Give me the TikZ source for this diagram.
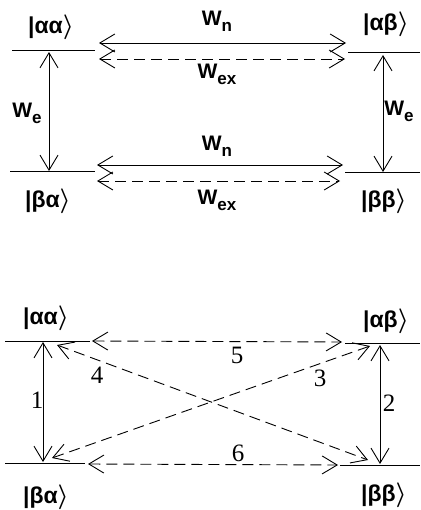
\documentclass[tikz,border=0pt]{standalone}
\usepackage{fontspec}
\setmainfont{Liberation Sans}
\newfontfamily\numfont{Liberation Serif}
\usetikzlibrary{arrows.meta}
\newcommand{\myket}[1]{|#1$\boldsymbol{\rangle}$}
\usepackage{amsmath}
\usepackage{amsbsy}
\newcommand{\Wsub}[1]{W\raisebox{-0.55ex}{\fontsize{17}{17}\selectfont #1}}
\tikzset{
  lvl/.style={line width=1pt},
  barb/.tip={Straight Barb[length=15pt,width=18pt]},
  dbl/.style={line width=0.9pt,barb-barb},
  dsh/.style={dash pattern=on 11pt off 6pt},
  ketlab/.style={font=\fontsize{23}{26}\selectfont\bfseries, inner sep=0pt},
  wlab/.style={font=\fontsize{21}{24}\selectfont\bfseries, inner sep=0pt},
  numlab/.style={font=\numfont\fontsize{25}{27}\selectfont, inner sep=0pt}
}
\begin{document}
\begin{tikzpicture}[x=1pt,y=-1pt]
\useasboundingbox (0,0) rectangle (420,510);
% ---------- top diagram ----------
\coordinate (aL1) at (12,51);  \coordinate (aL2) at (95,51);
\coordinate (bL1) at (10,172); \coordinate (bL2) at (95,172);
\coordinate (aR1) at (348,53); \coordinate (aR2) at (420,53);
\coordinate (bR1) at (345,173);\coordinate (bR2) at (420,173);
\draw[lvl] (aL1) -- (aL2);
\draw[lvl] (bL1) -- (bL2);
\draw[lvl] (aR1) -- (aR2);
\draw[lvl] (bR1) -- (bR2);
\coordinate (veL1) at (49,52);  \coordinate (veL2) at (49,171);
\coordinate (veR1) at (383,55); \coordinate (veR2) at (383,172);
\draw[dbl] (veL1) -- (veL2);
\draw[dbl] (veR1) -- (veR2);
\coordinate (nA1) at (99,43);  \coordinate (nA2) at (346,43);
\coordinate (xA1) at (99,59);  \coordinate (xA2) at (345,59);
\coordinate (nB1) at (97,165); \coordinate (nB2) at (343,165);
\coordinate (xB1) at (97,181); \coordinate (xB2) at (340,181);
\draw[dbl] (nA1) -- (nA2);
\draw[dbl,dsh] (xA1) -- (xA2);
\draw[dbl] (nB1) -- (nB2);
\draw[dbl,dsh] (xB1) -- (xB2);
\node[ketlab] (k1) at (51,27) {\myket{αα}};
\node[ketlab] (k2) at (386,24) {\myket{αβ}};
\node[ketlab] (k3) at (48,201) {\myket{βα}};
\node[ketlab] (k4) at (384,201) {\myket{ββ}};
\node[wlab] (w1) at (217,21) {\Wsub{n}};
\node[wlab] (w2) at (217,74) {\Wsub{ex}};
\node[wlab] (w3) at (217,146) {\Wsub{n}};
\node[wlab] (w4) at (217,200) {\Wsub{ex}};
\node[wlab] (w5) at (27,113) {\Wsub{e}};
\node[wlab] (w6) at (399,111) {\Wsub{e}};
% ---------- bottom diagram ----------
\coordinate (cL1) at (5,341);  \coordinate (cL2) at (90,341);
\coordinate (dL1) at (5,463);  \coordinate (dL2) at (85,463);
\coordinate (cR1) at (345,343);\coordinate (cR2) at (420,343);
\coordinate (dR1) at (340,465);\coordinate (dR2) at (420,465);
\draw[lvl] (cL1) -- (cL2);
\draw[lvl] (dL1) -- (dL2);
\draw[lvl] (cR1) -- (cR2);
\draw[lvl] (dR1) -- (dR2);
\coordinate (t1a) at (43,342); \coordinate (t1b) at (43,462);
\coordinate (t2a) at (380,345);\coordinate (t2b) at (380,464);
\draw[dbl] (t1a) -- (t1b);
\draw[dbl] (t2a) -- (t2b);
\coordinate (t5a) at (92,341); \coordinate (t5b) at (342,342);
\coordinate (t6a) at (88,464); \coordinate (t6b) at (338,465);
\draw[dbl,dsh] (t5a) -- (t5b);
\draw[dbl,dsh] (t6a) -- (t6b);
\coordinate (t4a) at (57,345); \coordinate (t4b) at (368,460);
\coordinate (t3a) at (52,458); \coordinate (t3b) at (370,346);
\draw[dbl,dsh] (t4a) -- (t4b);
\draw[dbl,dsh] (t3a) -- (t3b);
\node[ketlab] (k5) at (46,318) {\myket{αα}};
\node[ketlab] (k6) at (386,321) {\myket{αβ}};
\node[ketlab] (k7) at (46,497) {\myket{βα}};
\node[ketlab] (k8) at (384,495) {\myket{ββ}};
\node[numlab] (n1) at (37,400) {1};
\node[numlab] (n2) at (389,403) {2};
\node[numlab] (n3) at (320,378) {3};
\node[numlab] (n4) at (97,375) {4};
\node[numlab] (n5) at (237,355) {5};
\node[numlab] (n6) at (238,453) {6};
\end{tikzpicture}
\end{document}
